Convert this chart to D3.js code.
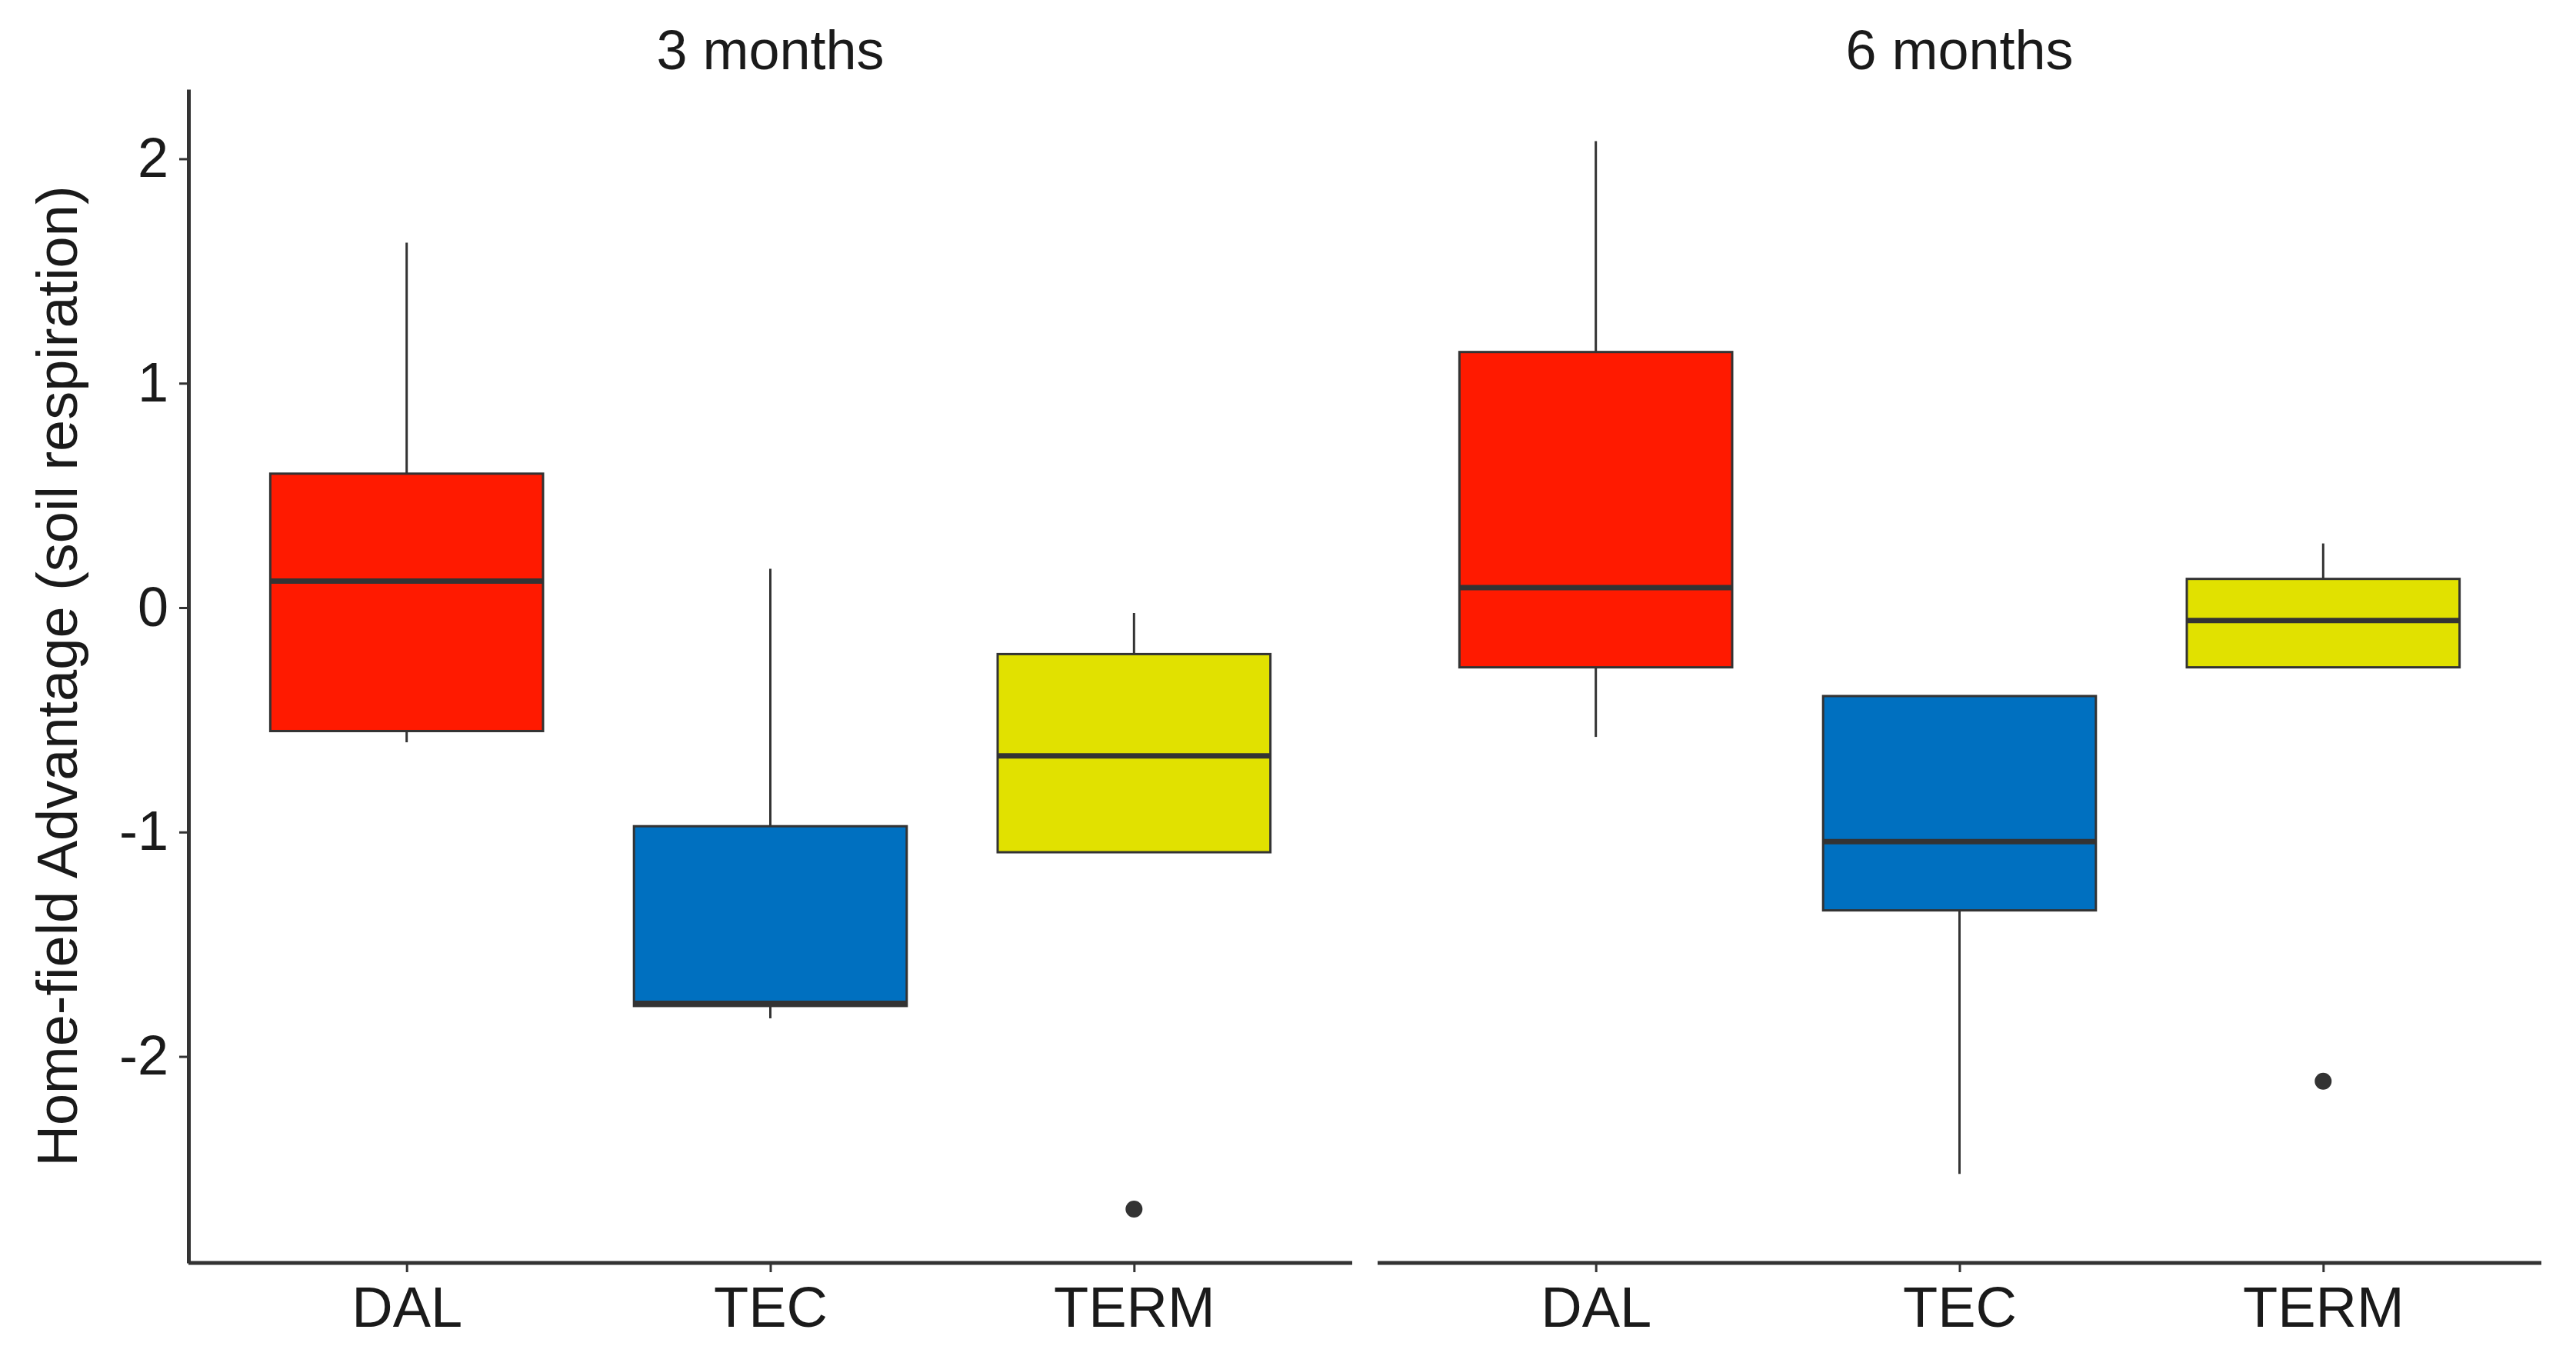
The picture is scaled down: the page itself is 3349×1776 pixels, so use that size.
<!DOCTYPE html>
<html>
<head>
<meta charset="utf-8">
<script src="https://cdn.jsdelivr.net/npm/d3@7"></script>
<style>
  body { margin: 0; background: #fff; }
  text { font-family: "Liberation Sans", Arial, sans-serif; fill: #1a1a1a; }
</style>
</head>
<body>
<div id="chart"></div>
<script>
// Data
//= ================================
var panels = ["3 months", "6 months"];
var categories = ["DAL", "TEC", "TERM"];
var fillColors = ["#ff1a00", "#0070c0", "#e1e100"];
var yTicks = [-2, -1, 0, 1, 2];

// 3 months
var low3 = [-0.60, -1.83, -1.09];
var q1_3 = [-0.55, -1.775, -1.09];
var med3 = [0.118, -1.763, -0.661];
var q3_3 = [0.597, -0.974, -0.207];
var high3 = [1.626, 0.173, -0.024];
var out3 = [["TERM", -2.68]];

// 6 months
var low6 = [-0.576, -2.523, -0.266];
var q1_6 = [-0.266, -1.349, -0.266];
var med6 = [0.089, -1.043, -0.057];
var q3_6 = [1.139, -0.394, 0.128];
var high6 = [2.079, -0.394, 0.286];
var out6 = [["TERM", -2.11]];

// Setup the chart
//= ================================
var svgWidth = 3349;
var svgHeight = 1776;

var plotTop = 116;
var plotBottom = 1642;
var panelRanges = [[245, 1758], [1791, 3304]];

var svg = d3.select("#chart")
    .append("svg")
    .attr("width", svgWidth)
    .attr("height", svgHeight);

var yScale = d3.scaleLinear()
    .domain([-2.92, 2.31])
    .range([plotBottom, plotTop]);

var panelData = [
    { low: low3, q1: q1_3, med: med3, q3: q3_3, high: high3, out: out3 },
    { low: low6, q1: q1_6, med: med6, q3: q3_6, high: high6, out: out6 }
];

panelData.forEach(function (pd, p) {
    var xScale = d3.scalePoint()
        .domain(categories)
        .range(panelRanges[p])
        .padding(0.6);

    var boxW = xScale.step() * 0.75;

    var g = svg.append("g");

    var rows = categories.map(function (c, i) {
        return { cat: c, low: pd.low[i], q1: pd.q1[i], med: pd.med[i], q3: pd.q3[i], high: pd.high[i], fill: fillColors[i] };
    });

    // whiskers
    g.selectAll(".whiskerUp")
        .data(rows)
        .enter()
        .append("line")
        .attr("x1", d => xScale(d.cat))
        .attr("x2", d => xScale(d.cat))
        .attr("y1", d => yScale(d.q3))
        .attr("y2", d => yScale(d.high))
        .attr("stroke", "#333")
        .attr("stroke-width", 3);

    g.selectAll(".whiskerDown")
        .data(rows)
        .enter()
        .append("line")
        .attr("x1", d => xScale(d.cat))
        .attr("x2", d => xScale(d.cat))
        .attr("y1", d => yScale(d.q1))
        .attr("y2", d => yScale(d.low))
        .attr("stroke", "#333")
        .attr("stroke-width", 3);

    // boxes
    g.selectAll(".box")
        .data(rows)
        .enter()
        .append("rect")
        .attr("x", d => xScale(d.cat) - boxW / 2)
        .attr("width", boxW)
        .attr("y", d => yScale(d.q3))
        .attr("height", d => yScale(d.q1) - yScale(d.q3))
        .attr("fill", d => d.fill)
        .attr("stroke", "#333")
        .attr("stroke-width", 3);

    // medians
    g.selectAll(".median")
        .data(rows)
        .enter()
        .append("line")
        .attr("x1", d => xScale(d.cat) - boxW / 2)
        .attr("x2", d => xScale(d.cat) + boxW / 2)
        .attr("y1", d => yScale(d.med))
        .attr("y2", d => yScale(d.med))
        .attr("stroke", "#333")
        .attr("stroke-width", 7);

    // outliers
    g.selectAll(".outlier")
        .data(pd.out)
        .enter()
        .append("circle")
        .attr("cx", d => xScale(d[0]))
        .attr("cy", d => yScale(d[1]))
        .attr("r", 11)
        .attr("fill", "#333");

    // x axis
    var xAxis = g.append("g")
        .attr("transform", `translate(0, ${plotBottom})`)
        .call(d3.axisBottom(xScale).tickSize(12).tickPadding(18).tickSizeOuter(0));
    xAxis.select(".domain").attr("stroke", "#333").attr("stroke-width", 5)
        .attr("d", `M${panelRanges[p][0]},0H${panelRanges[p][1]}`);
    xAxis.selectAll(".tick line").attr("stroke", "#333").attr("stroke-width", 3);
    xAxis.selectAll(".tick text")
        .attr("font-size", "74px")
        .attr("fill", "#111");

    // strip title
    svg.append("text")
        .attr("x", (panelRanges[p][0] + panelRanges[p][1]) / 2)
        .attr("y", 90)
        .attr("text-anchor", "middle")
        .attr("font-size", "72px")
        .text(panels[p]);

    // y axis only on first panel
    if (p === 0) {
        var yAxis = g.append("g")
            .attr("transform", `translate(${panelRanges[0][0]}, 0)`)
            .call(d3.axisLeft(yScale).tickValues(yTicks).tickSize(12).tickPadding(14).tickSizeOuter(0));
        yAxis.select(".domain").attr("stroke", "#333").attr("stroke-width", 5);
        yAxis.selectAll(".tick line").attr("stroke", "#333").attr("stroke-width", 3);
        yAxis.selectAll(".tick text")
            .attr("font-size", "72px")
            .attr("fill", "#111")
            .text(d => d < 0 ? "-" + Math.abs(d) : d);
    }
});

// y axis label
svg.append("text")
    .attr("transform", `translate(100, ${(plotTop + plotBottom) / 2}) rotate(-90)`)
    .attr("text-anchor", "middle")
    .attr("font-size", "74px")
    .text("Home-field Advantage (soil respiration)");
</script>
</body>
</html>
